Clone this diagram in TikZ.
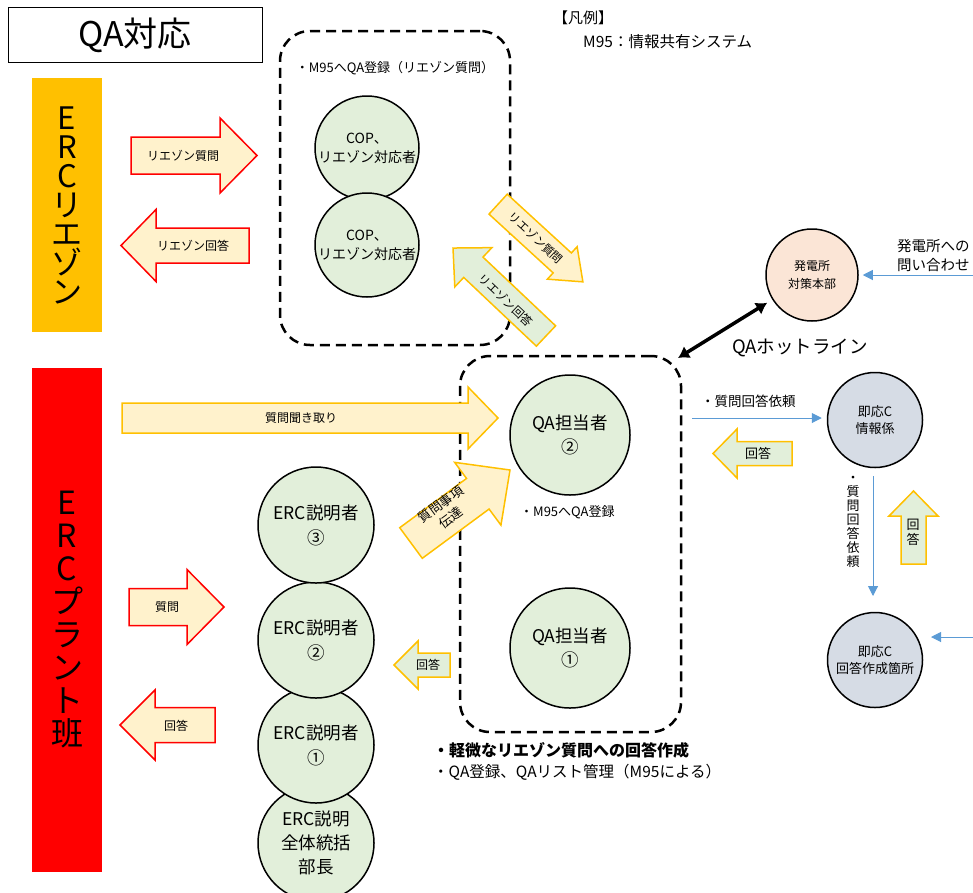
\documentclass[tikz,border=0pt]{standalone}
\usepackage{fontspec}
\setmainfont{Noto Sans CJK JP}
\usetikzlibrary{arrows.meta}
\definecolor{lgreen}{HTML}{E2EFDA}
\definecolor{lyellow}{HTML}{FFF2CC}
\definecolor{orangeC}{HTML}{FFC000}
\definecolor{peach}{HTML}{FBE5D6}
\definecolor{grayblue}{HTML}{D6DCE5}
\definecolor{blueline}{HTML}{5B9BD5}
\newcommand{\fs}[2]{\fontsize{#1}{#2}\selectfont}
\newcommand{\blkarrow}[8]{%
  \begin{scope}[shift={(#2,#3)},rotate=#4]
    \draw[#1] ({-(#5)/2},{-(#6)}) -- ({(#5)/2-(#8)},{-(#6)}) -- ({(#5)/2-(#8)},{-(#7)}) -- ({(#5)/2},0)
      -- ({(#5)/2-(#8)},{#7}) -- ({(#5)/2-(#8)},{#6}) -- ({-(#5)/2},{#6}) -- cycle;
  \end{scope}}
\tikzset{
  circ/.style={circle,draw=black,line width=1.5pt,fill=lgreen,align=center,inner sep=0pt},
  dbox/.style={draw=black,rounded corners=30pt,line width=2.5pt,dash pattern=on 10pt off 6pt},
  redarr/.style={draw=red,line width=1.5pt,fill=lyellow,line join=miter},
  yelarr/.style={draw=orangeC,line width=1.5pt,fill=lyellow,line join=miter},
  grnarr/.style={draw=orangeC,line width=1.5pt,fill=lgreen,line join=miter},
  alabel/.style={font=\fs{12}{16},align=center,inner sep=0pt},
  blarrow/.style={draw=blueline,line width=1pt,-{Triangle[length=10pt,width=10pt]}},
  txt/.style={inner sep=0pt,align=left}
}
\begin{document}
\begin{tikzpicture}[x=1pt,y=-1pt]
\useasboundingbox (0,0) rectangle (973,892);

% title and legend
\node[draw=black,line width=1pt,minimum width=254pt,minimum height=55pt,font=\fs{34}{38}] (title) at (135,35) {QA対応};
\node[txt,anchor=west,font=\fs{15}{18}] (leg1) at (553,18) {【凡例】};
\node[txt,anchor=west,font=\fs{15.5}{18}] (leg2) at (583,42) {M95：情報共有システム};

% side bars
\node[fill=orangeC,minimum width=70pt,minimum height=254pt,align=center,inner sep=0pt,font=\fs{31}{29}] (liaison) at (67,205) {E\\R\\C\\リ\\エ\\ゾ\\ン};
\node[fill=red,minimum width=70pt,minimum height=504pt,align=center,inner sep=0pt,font=\fs{32}{33}] (plant) at (67,620) {E\\R\\C\\プ\\ラ\\ン\\ト\\班};

% dashed boxes
\node[dbox,minimum width=230pt,minimum height=314pt] (box1) at (395,188) {};
\node[dbox,minimum width=221pt,minimum height=376pt] (box2) at (570.5,544) {};
\node[txt,font=\fs{13}{15}] (box1lab) at (395,68) {・M95へQA登録（リエゾン質問）};

% COP circles
\node[circ,minimum size=104pt,font=\fs{14}{19}] (cop1) at (367,148) {COP、\\リエゾン対応者};
\node[circ,minimum size=104pt,font=\fs{14}{19}] (cop2) at (367,245) {COP、\\リエゾン対応者};

% liaison arrows
\blkarrow{redarr}{194}{155.5}{0}{126}{18.5}{37.5}{37}
\node[alabel] (t1) at (183,156) {リエゾン質問};
\blkarrow{redarr}{185}{245.5}{180}{128}{17.5}{36}{35}
\node[alabel] (t2) at (193,246) {リエゾン回答};

% diagonal arrows between boxes
\blkarrow{yelarr}{540.5}{243}{-42.5}{115}{13.5}{22}{28}
\node[alabel,font=\fs{11.5}{14},rotate=-42.5] (t3) at (536,238) {リエゾン質問};
\blkarrow{grnarr}{499.5}{292}{136.6}{128}{14}{27}{28}
\node[alabel,font=\fs{11.5}{14},rotate=-43.4] (t4) at (506,300) {リエゾン回答};

% plant arrows
\blkarrow{yelarr}{310}{418}{0}{376}{15}{31}{30}
\node[alabel] (t5) at (301,418) {質問聞き取り};
\blkarrow{redarr}{176.5}{607}{0}{95}{18.5}{37.5}{37}
\node[alabel] (t6) at (167,607) {質問};
\blkarrow{redarr}{167.5}{725}{180}{95}{17.5}{35}{35}
\node[alabel] (t7) at (176,726) {回答};
\blkarrow{grnarr}{422}{665}{180}{56}{12}{24}{24}
\node[alabel] (t8) at (428,665) {回答};
\blkarrow{yelarr}{460.5}{506.5}{36.4}{123}{19}{39}{40}
\node[alabel,font=\fs{13}{17},rotate=36.4] (t9) at (446,511) {質問事項\\伝達};

% ERC circles (bottom first)
\node[circ,minimum size=116pt,font=\fs{17.5}{24}] (e0) at (316,843) {ERC説明\\全体統括\\部長};
\node[circ,minimum size=116pt,font=\fs{17.5}{25}] (e1) at (316,745) {ERC説明者\\①};
\node[circ,minimum size=116pt,font=\fs{17.5}{25}] (e2) at (316,640) {ERC説明者\\②};
\node[circ,minimum size=116pt,font=\fs{17.5}{25}] (e3) at (316,525) {ERC説明者\\③};

% QA circles
\node[circ,minimum size=120pt,font=\fs{17.5}{24}] (qa2) at (570,435) {QA担当者\\②};
\node[circ,minimum size=120pt,font=\fs{17.5}{24}] (qa1) at (570,648) {QA担当者\\①};
\node[txt,anchor=west,font=\fs{13}{15}] (qa2lab) at (520,512) {・M95へQA登録};
\node[txt,anchor=west,font=\bfseries\fs{16}{20}] (note1) at (433,750) {・軽微なリエゾン質問への回答作成};
\node[txt,anchor=west,font=\fs{15.5}{20}] (note2) at (433,772) {・QA登録、QAリスト管理（M95による）};

% power station
\node[circle,draw=black,line width=1.5pt,fill=peach,minimum size=92pt,inner sep=0pt,align=center,font=\fs{12}{18}] (hq) at (812,275) {発電所\\対策本部};
\coordinate (hotA) at (678,358);
\draw[line width=3.5pt,{Latex[length=11pt,width=14pt]}-{Latex[length=11pt,width=14pt]},shorten >=6pt] (hotA) -- (hq);
\node[txt,font=\fs{18.5}{22}] (hotlab) at (800,348) {QAホットライン};
\coordinate (inqR) at (973,275);
\draw[blarrow,shorten >=4pt] (inqR) -- (hq);
\node[txt,anchor=west,font=\fs{14.5}{19}] (inqlab) at (897,256) {発電所への\\問い合わせ};

% response center
\node[circle,draw=black,line width=1.5pt,fill=grayblue,minimum size=95pt,inner sep=0pt,align=center,font=\fs{13}{17}] (info) at (875,420) {即応C\\情報係};
\node[circle,draw=black,line width=1.5pt,fill=grayblue,minimum size=95pt,inner sep=0pt,align=center,font=\fs{13}{17}] (resp) at (875,660) {即応C\\回答作成箇所};
\coordinate (reqS) at (692,418);
\draw[blarrow,shorten >=5pt] (reqS) -- (reqS -| info.west);
\node[txt,anchor=west,font=\fs{13.5}{17}] (reqlab) at (701,401) {・質問回答依頼};
\blkarrow{grnarr}{752.5}{453.5}{180}{79}{12}{24.5}{24}
\node[alabel,font=\fs{13}{17}] (t10) at (758,453) {回答};
\coordinate (vS) at (873,476);
\coordinate (vE) at (873,596);
\draw[blarrow] (vS) -- (vE);
\node[txt,align=center,font=\fs{13}{14}] (vlab) at (853,522) {・\\質\\問\\回\\答\\依\\頼};
\blkarrow{grnarr}{913.5}{527.5}{90}{73}{12.5}{24.5}{25}
\node[alabel,font=\fs{13}{15}] (t11) at (913,532) {回\\答};
\coordinate (respR) at (973,637);
\draw[blarrow] (respR) -- (931,637);
\end{tikzpicture}
\end{document}
